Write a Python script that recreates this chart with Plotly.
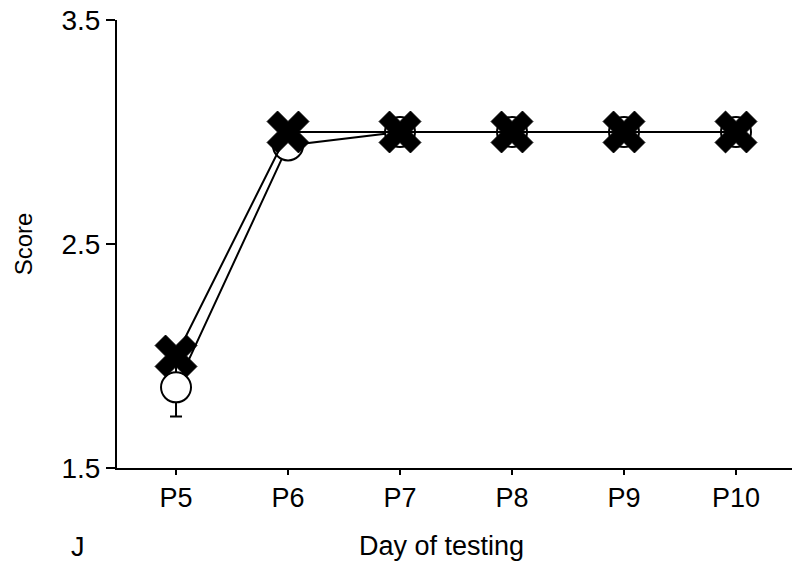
import plotly.graph_objects as go

days = ["P5", "P6", "P7", "P8", "P9", "P10"]
x_pos = [0, 1, 2, 3, 4, 5]
circle_scores = [1.86, 2.94, 3.0, 3.0, 3.0, 3.0]
circle_err = [0.13, 0.06, 0.0, 0.0, 0.0, 0.0]
cross_scores = [2.0, 3.0, 3.0, 3.0, 3.0, 3.0]
y_ticks = [1.5, 2.5, 3.5]

FONT = "Liberation Sans, Arial, sans-serif"
L, R, T, B = 117, 8, 20, 101
W, H = 800, 569

fig = go.Figure()
fig.add_trace(go.Scatter(
    x=x_pos, y=circle_scores, mode="lines+markers",
    line=dict(color="black", width=2),
    marker=dict(symbol="circle", size=30, color="white", line=dict(color="black", width=2)),
    error_y=dict(type="data", array=circle_err, visible=True, color="black", thickness=2, width=6),
    showlegend=False,
    cliponaxis=False,
))
fig.add_trace(go.Scatter(
    x=x_pos, y=cross_scores, mode="lines+markers",
    line=dict(color="black", width=2),
    marker=dict(symbol="x", size=37, color="black", line=dict(color="black", width=1)),
    showlegend=False,
    cliponaxis=False,
))

pw = W - L - R
ph = H - T - B

fig.update_layout(
    width=W, height=H,
    margin=dict(l=L, r=R, t=T, b=B, autoexpand=False),
    paper_bgcolor="white", plot_bgcolor="white",
    font=dict(family=FONT, color="black", size=27),
    xaxis=dict(
        range=[-0.527, 5.5], tickvals=x_pos, ticktext=days,
        showline=True, linecolor="black", linewidth=2,
        ticks="outside", ticklen=5, tickwidth=2, tickcolor="black",
        showgrid=False, zeroline=False, automargin=False,
        tickfont=dict(size=27),
    ),
    yaxis=dict(
        range=[1.5, 3.5], tickvals=y_ticks, ticktext=[f"{v:.1f}" for v in y_ticks],
        showline=True, linecolor="black", linewidth=2,
        ticks="outside", ticklen=9, tickwidth=2, tickcolor="black",
        showgrid=False, zeroline=False, automargin=False,
        tickfont=dict(size=28),
        title=dict(text="Score", font=dict(size=24), standoff=22),
    ),
    annotations=[
        dict(text="J", x=(78 - L) / pw, y=(H - B - 547) / ph,
             xref="paper", yref="paper", showarrow=False,
             xanchor="center", yanchor="middle", font=dict(size=27)),
        dict(text="Day of testing", x=(441 - L) / pw, y=(H - B - 546) / ph,
             xref="paper", yref="paper", showarrow=False,
             xanchor="center", yanchor="middle", font=dict(size=27)),
    ],
)

fig.write_html("out.html", config={"displayModeBar": False},
               post_script="document.body.style.margin='0';")
